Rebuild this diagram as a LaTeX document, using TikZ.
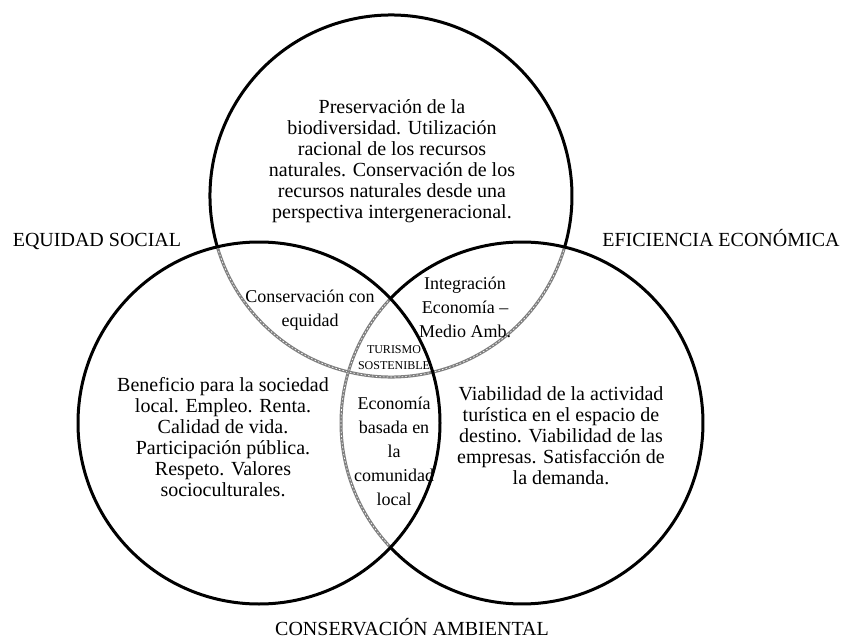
\documentclass[tikz,border=0pt]{standalone}
\usepackage{fontspec}
\setmainfont{Liberation Serif}

\tikzset{every picture/.style={line width=0.75pt}}
\tikzset{
  ringline/.style={draw=black, line width=2.25pt},
  lensline/.style={draw=black!50, line width=2.25pt},
  lenshatch/.style={draw=white, line width=0.5pt, dash pattern=on 1.2pt off 1.6pt},
  bodytext/.style={align=center, inner sep=0pt, font=\fontsize{15}{15.75}\selectfont},
  labeltext/.style={anchor=base, inner sep=0pt, font=\fontsize{15}{15.75}\selectfont},
  lenstext/.style={align=center, inner sep=0pt, font=\fontsize{13.5}{18}\selectfont},
  coretext/.style={align=center, inner sep=0pt, font=\fontsize{9}{12}\selectfont}
}

\begin{document}
\begin{tikzpicture}[x=0.75pt,y=0.75pt,yscale=-1,xscale=1]
	\useasboundingbox (0,0) rectangle (843,639);

	% Centres of the three rings
	\coordinate (ambC) at (391,196);
	\coordinate (socC) at (259,423);
	\coordinate (ecoC) at (522,423);

	%Shape: Arc [grey part of the top ring]
	\draw [lensline] (ambC) ++(16.4:181) arc[start angle=16.4, end angle=163.7, radius=181];
	\draw [lenshatch] (ambC) ++(16.4:181) arc[start angle=16.4, end angle=163.7, radius=181];
	%Shape: Arc [grey part of the right ring]
	\draw [lensline] (ecoC) ++(136.6:181) arc[start angle=136.6, end angle=223.4, radius=181];
	\draw [lenshatch] (ecoC) ++(136.6:181) arc[start angle=136.6, end angle=223.4, radius=181];

	%Shape: Circle [left ring]
	\draw [ringline] (socC) circle[radius=181];
	%Shape: Arc [black part of the top ring]
	\draw [ringline] (ambC) ++(163.7:181) arc[start angle=163.7, end angle=376.4, radius=181];
	%Shape: Arc [black part of the right ring]
	\draw [ringline] (ecoC) ++(223.4:181) arc[start angle=223.4, end angle=496.6, radius=181];

	% Text Node
	\draw (392,161) node (ambTxt) [bodytext] {Preservación de la\\biodiversidad. Utilización\\racional de los recursos\\naturales. Conservación de los\\recursos naturales desde una\\perspectiva intergeneracional.};
	% Text Node
	\draw (223,437) node (socTxt) [bodytext] {Beneficio para la sociedad\\local. Empleo. Renta.\\Calidad de vida.\\Participación pública.\\Respeto. Valores\\socioculturales.};
	% Text Node
	\draw (561,436) node (ecoTxt) [bodytext] {Viabilidad de la actividad\\turística en el espacio de\\destino. Viabilidad de las\\empresas. Satisfacción de\\la demanda.};

	% Text Node
	\draw (97,246) node (socLbl) [labeltext] {EQUIDAD SOCIAL};
	% Text Node
	\draw (721,246) node (ecoLbl) [labeltext] {EFICIENCIA ECONÓMICA};
	% Text Node
	\draw (412,635) node (ambLbl) [labeltext] {CONSERVACIÓN AMBIENTAL};

	% Text Node
	\draw (310,310) node (ambSocTxt) [lenstext] {Conservación con\\equidad};
	% Text Node
	\draw (465,307) node (ambEcoTxt) [lenstext] {Integración\\Economía –\\Medio Amb.};
	% Text Node
	\draw (394,451) node (socEcoTxt) [lenstext] {Economía\\basada en\\la\\comunidad\\local};
	% Text Node
	\draw (394,358) node (coreTxt) [coretext] {TURISMO\\SOSTENIBLE};

\end{tikzpicture}
\end{document}
